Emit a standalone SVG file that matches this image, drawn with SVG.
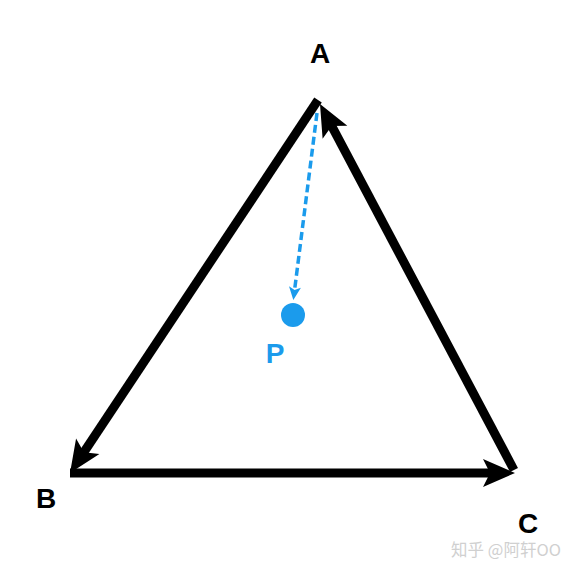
<svg xmlns="http://www.w3.org/2000/svg" width="580" height="573" viewBox="0 0 580 573">
<defs>
<style>
.edge{stroke:#000;stroke-width:9;fill:none;stroke-linecap:butt}
.lbl{font-family:"Liberation Sans",Arial,sans-serif;font-weight:bold;font-size:28px;text-anchor:middle}
.blue{fill:#1b9bec}
</style>
<marker id="ah" markerUnits="userSpaceOnUse" viewBox="-12 -16 36 32" refX="0" refY="0" markerWidth="36" markerHeight="32" orient="auto">
<path d="M22,0 L-10,-14 L-3,0 L-10,14 Z" fill="#000"/>
</marker>
<marker id="bh" markerUnits="userSpaceOnUse" viewBox="-8 -8 16 16" refX="0" refY="0" markerWidth="16" markerHeight="16" orient="auto">
<path d="M7,0 L-6,-6 L-3,0 L-6,6 Z" fill="#1b9bec"/>
</marker>
</defs>
<rect width="580" height="573" fill="#fff"/>
<g id="connectors">
<line class="edge" x1="318" y1="100" x2="82.2" y2="454.7" marker-end="url(#ah)"/>
<line class="edge" x1="70" y1="473" x2="493" y2="473" marker-end="url(#ah)"/>
<line class="edge" x1="514" y1="470" x2="330.3" y2="123.4" marker-end="url(#ah)"/>
<line x1="317" y1="113" x2="294.2" y2="293" stroke="#1b9bec" stroke-width="3.5" stroke-dasharray="8,4" marker-end="url(#bh)"/>
</g>
<g id="A"><text class="lbl" x="320" y="63">A</text></g>
<g id="B"><text class="lbl" x="46" y="508">B</text></g>
<g id="C"><text class="lbl" x="528" y="533">C</text></g>
<g id="P">
<circle class="blue" cx="293" cy="315" r="12"/>
<text class="lbl blue" x="275" y="363">P</text>
</g>
<text x="506" y="556" font-family="'Noto Sans CJK SC',sans-serif" font-size="16.5" fill="#d0d0d0" text-anchor="middle">知乎 @阿轩OO</text>
</svg>
